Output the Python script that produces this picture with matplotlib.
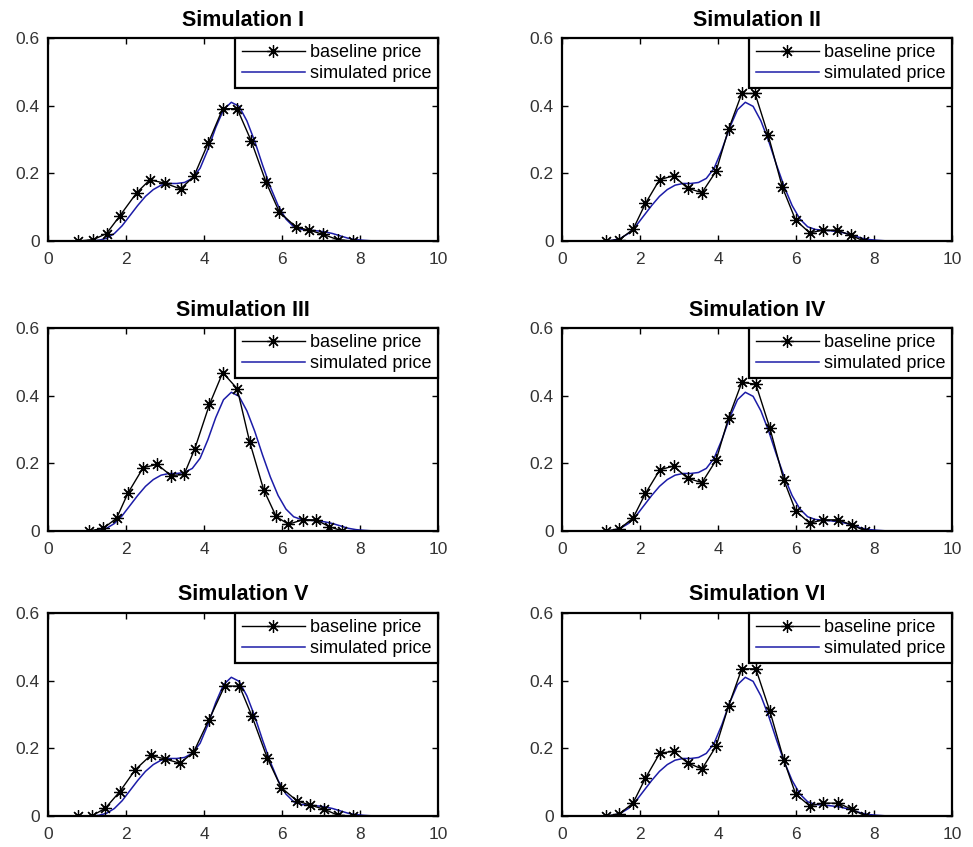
import matplotlib
matplotlib.use("Agg")
import matplotlib.pyplot as plt

plt.rcParams['font.family'] = ['Liberation Sans', 'DejaVu Sans']

titles = ["Simulation I", "Simulation II", "Simulation III",
          "Simulation IV", "Simulation V", "Simulation VI"]

# baseline price (black, asterisk markers)
base_x1 = [0.78, 1.16, 1.50, 1.84, 2.27, 2.61, 2.99, 3.40, 3.74, 4.11,
           4.48, 4.85, 5.21, 5.59, 5.93, 6.36, 6.70, 7.04, 7.43, 7.81]
base_y1 = [0.000, 0.004, 0.022, 0.074, 0.142, 0.181, 0.171, 0.154, 0.191, 0.290,
           0.391, 0.391, 0.296, 0.174, 0.086, 0.041, 0.032, 0.020, 0.004, 0.000]

base_x2 = [1.12, 1.47, 1.82, 2.14, 2.50, 2.86, 3.22, 3.59, 3.95, 4.27,
           4.61, 4.95, 5.29, 5.65, 5.99, 6.35, 6.69, 7.06, 7.40, 7.74]
base_y2 = [0.000, 0.004, 0.034, 0.111, 0.181, 0.193, 0.156, 0.143, 0.206, 0.330,
           0.436, 0.436, 0.312, 0.159, 0.062, 0.024, 0.032, 0.032, 0.017, 0.000]

base_x3 = [1.05, 1.42, 1.76, 2.05, 2.44, 2.80, 3.15, 3.49, 3.76, 4.14,
           4.48, 4.85, 5.17, 5.53, 5.85, 6.16, 6.53, 6.87, 7.21, 7.55]
base_y3 = [0.000, 0.008, 0.038, 0.112, 0.187, 0.197, 0.164, 0.167, 0.242, 0.374,
           0.468, 0.421, 0.264, 0.122, 0.043, 0.020, 0.033, 0.033, 0.013, 0.000]

base_x4 = [1.12, 1.47, 1.82, 2.14, 2.51, 2.86, 3.22, 3.59, 3.95, 4.27,
           4.61, 4.97, 5.33, 5.69, 5.99, 6.35, 6.69, 7.08, 7.43, 7.78]
base_y4 = [0.000, 0.006, 0.038, 0.111, 0.181, 0.192, 0.156, 0.143, 0.209, 0.334,
           0.439, 0.434, 0.304, 0.150, 0.060, 0.023, 0.033, 0.033, 0.018, 0.000]

base_x5 = [0.76, 1.12, 1.47, 1.84, 2.24, 2.63, 2.99, 3.38, 3.73, 4.13,
           4.53, 4.91, 5.23, 5.62, 5.98, 6.38, 6.73, 7.08, 7.44, 7.83]
base_y5 = [0.000, 0.000, 0.023, 0.072, 0.137, 0.179, 0.169, 0.156, 0.188, 0.285,
           0.384, 0.384, 0.295, 0.172, 0.084, 0.045, 0.032, 0.020, 0.002, 0.000]

base_x6 = [1.12, 1.47, 1.82, 2.14, 2.51, 2.86, 3.22, 3.59, 3.95, 4.27,
           4.61, 4.97, 5.33, 5.69, 5.99, 6.35, 6.69, 7.08, 7.43, 7.78]
base_y6 = [0.000, 0.006, 0.038, 0.112, 0.186, 0.191, 0.157, 0.139, 0.206, 0.325,
           0.435, 0.435, 0.310, 0.165, 0.065, 0.030, 0.038, 0.038, 0.020, 0.000]

# simulated price (blue smooth curve)
sim_x = [1.1, 1.3, 1.5, 1.7, 1.9, 2.1, 2.3, 2.5, 2.7, 2.9, 3.1, 3.3, 3.5, 3.7,
         3.9, 4.1, 4.3, 4.5, 4.7, 4.9, 5.1, 5.3, 5.5, 5.7, 5.9, 6.1, 6.3, 6.5,
         6.7, 6.9, 7.1, 7.3, 7.5, 7.7, 7.9, 8.1, 8.3, 8.6]
sim_y = [0.000, 0.002, 0.008, 0.022, 0.045, 0.075, 0.105, 0.132, 0.152, 0.165,
         0.170, 0.170, 0.173, 0.185, 0.215, 0.270, 0.335, 0.388, 0.410, 0.398,
         0.355, 0.295, 0.225, 0.160, 0.105, 0.065, 0.042, 0.034, 0.032, 0.030,
         0.027, 0.022, 0.015, 0.008, 0.004, 0.002, 0.0005, 0.000]

base_xs = [base_x1, base_x2, base_x3, base_x4, base_x5, base_x6]
base_ys = [base_y1, base_y2, base_y3, base_y4, base_y5, base_y6]

xticks = [0, 2, 4, 6, 8, 10]
yticks = [0, 0.2, 0.4, 0.6]
ytick_labels = ["0", "0.2", "0.4", "0.6"]

W, H = 973, 847
fig = plt.figure(figsize=(W / 100, H / 100), dpi=100)

lefts = [48, 562]
tops = [38, 328, 613]
aw = 390
ah = 203

blue = '#1c1ca8'
tick_color = '#333333'

for i in range(6):
    r, c = divmod(i, 2)
    l = lefts[c]
    t = tops[r]
    ax = fig.add_axes([l / W, 1 - (t + ah) / H, aw / W, ah / H])
    ax.plot(base_xs[i], base_ys[i], color='black', lw=1.0,
            marker=(8, 2, 0), markersize=9, markeredgewidth=0.9,
            label='baseline price', zorder=3)
    ax.plot(sim_x, sim_y, color=blue, lw=1.1, label='simulated price', zorder=2)
    ax.set_xlim(0, 10)
    ax.set_ylim(0, 0.6)
    ax.set_xticks(xticks)
    ax.set_yticks(yticks)
    ax.set_yticklabels(ytick_labels)
    ax.tick_params(direction='in', length=4, width=1.0, top=True, right=True,
                   labelsize=12.5, labelcolor=tick_color, pad=6)
    ax.tick_params(axis='x', pad=8)
    for s in ax.spines.values():
        s.set_linewidth(1.6)
    ax.set_title(titles[i], fontsize=15.5, fontweight='bold', pad=9)
    leg = ax.legend(loc='upper right', borderaxespad=0, fontsize=13,
                    fancybox=False, handlelength=3.5, handletextpad=0.3,
                    borderpad=0.35, labelspacing=0.2, framealpha=1,
                    edgecolor='black')
    leg.get_frame().set_linewidth(1.6)

fig.savefig('out.png', dpi=100)
